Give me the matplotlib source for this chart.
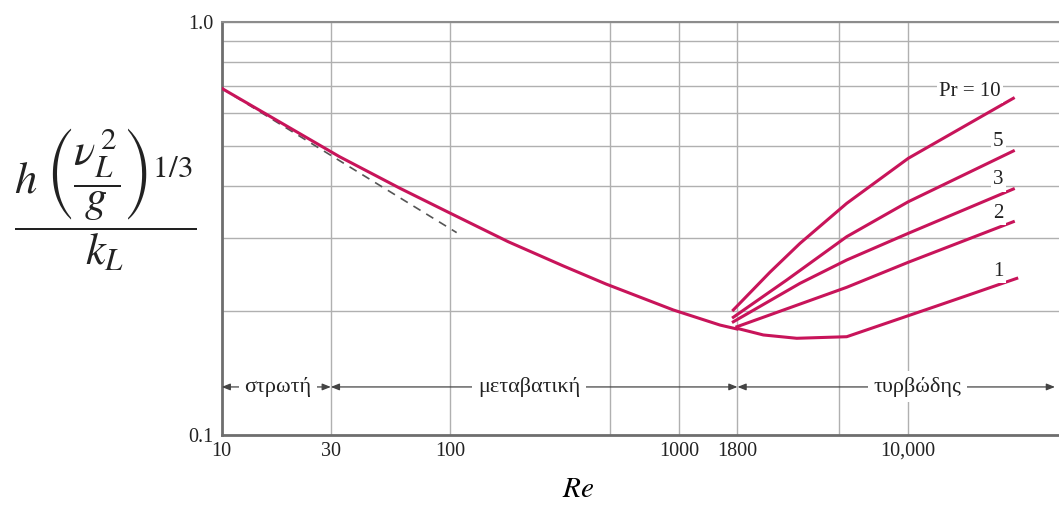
import numpy as np
import matplotlib
matplotlib.use("Agg")
import matplotlib.pyplot as plt

# Film condensation chart: dimensionless h vs Re, log-log

# Laminar / wavy-laminar branch
re_main = [10, 32.7, 60.2, 96.9, 179, 312, 479, 943, 1510, 1790]
nu_main = [0.690, 0.4716, 0.3953, 0.3469, 0.2935, 0.2564, 0.2319, 0.2007, 0.1845, 0.1805]

# Nusselt laminar (dashed)
re_nusselt = [10, 106.5]
nu_nusselt = [0.690, 0.3088]

# Turbulent branches for each Prandtl number
re_pr10 = [1726, 2498, 3378, 5406, 10050, 28930]
nu_pr10 = [0.2007, 0.2478, 0.2909, 0.3635, 0.4672, 0.6527]
re_pr5 = [1726, 2954, 5406, 10050, 28930]
nu_pr5 = [0.1927, 0.2371, 0.3019, 0.3668, 0.4866]
re_pr3 = [1726, 3378, 5406, 10050, 28930]
nu_pr3 = [0.1879, 0.2328, 0.2651, 0.3076, 0.3937]
re_pr2 = [1790, 5406, 10050, 28930]
nu_pr2 = [0.1828, 0.2277, 0.2618, 0.3281]
re_pr1 = [1790, 2335, 3268, 5406, 12510, 18090, 29940]
nu_pr1 = [0.1812, 0.1746, 0.1714, 0.1729, 0.2026, 0.2173, 0.2393]

pr_labels = ["Pr = 10", "5", "3", "2", "1"]
pr_label_re = [18700, 24880, 24880, 24880, 24880]
pr_label_nu = [0.677, 0.5125, 0.414, 0.3439, 0.2484]

# Flow regimes
regimes = ["στρωτή", "μεταβατική", "τυρβώδης"]
regime_bounds = [(10, 30), (30, 1800), (1800, 44000)]
regime_text_re = [17.6, 220.7, 11030]
regime_nu = 0.1307

x_grid = [10, 30, 100, 500, 1000, 1800, 5000, 10000]
x_labels = ["10", "30", "100", "", "1000", "1800", "", "10,000"]
y_grid = [0.1, 0.2, 0.3, 0.4, 0.5, 0.6, 0.7, 0.8, 0.9, 1.0]
y_labels = ["0.1", "", "", "", "", "", "", "", "", "1.0"]

curve_color = "#c8145a"
grid_color = "#b0b0b0"
serif = "Liberation Serif"

plt.rcParams["font.family"] = [serif, "DejaVu Serif"]
plt.rcParams["mathtext.fontset"] = "stix"

fig = plt.figure(figsize=(10.59, 5.08), dpi=100)
ax = fig.add_axes([221.7 / 1059, 1 - 435 / 508, 1 - 221.7 / 1059, (435 - 21.7) / 508])

ax.set_xscale("log")
ax.set_yscale("log")
ax.set_xlim(10, 45820)
ax.set_ylim(0.1, 1.0)

ax.set_xticks(x_grid)
ax.set_xticklabels(x_labels)
ax.set_xticks([], minor=True)
ax.set_yticks(y_grid)
ax.set_yticklabels(y_labels)
ax.set_yticks([], minor=True)
ax.tick_params(axis="both", length=0, labelsize=14.5, colors="#222222")
ax.tick_params(axis="x", pad=5)
ax.tick_params(axis="y", pad=6)
ax.grid(True, color=grid_color, linewidth=1.0, zorder=0)

for side in ["left", "bottom"]:
    ax.spines[side].set_color("#6e6e6e")
    ax.spines[side].set_linewidth(2.0)
ax.spines["top"].set_color("#8c8c8c")
ax.spines["top"].set_linewidth(1.5)
ax.spines["right"].set_visible(False)

# Curves
ax.plot(re_nusselt, nu_nusselt, color="#555555", lw=1.2, ls=(0, (5, 4)), zorder=2)
ax.plot(re_main, nu_main, color=curve_color, lw=2.2, zorder=3)
for re_vals, nu_vals in [(re_pr10, nu_pr10), (re_pr5, nu_pr5), (re_pr3, nu_pr3),
                         (re_pr2, nu_pr2), (re_pr1, nu_pr1)]:
    ax.plot(re_vals, nu_vals, color=curve_color, lw=2.2, zorder=3)

for lab, xr, yr in zip(pr_labels, pr_label_re, pr_label_nu):
    ax.text(xr, yr, lab, ha="center", va="center", fontsize=15, color="#222222",
            bbox=dict(facecolor="white", edgecolor="none", pad=1.5), zorder=4)

# Regime arrows
for (x0, x1), name, xt in zip(regime_bounds, regimes, regime_text_re):
    ax.annotate("", xy=(x0, regime_nu), xytext=(x1, regime_nu),
                arrowprops=dict(arrowstyle="<|-|>,head_length=0.5,head_width=0.2",
                                color="#444444", lw=0.9, shrinkA=0, shrinkB=0),
                zorder=3, annotation_clip=False)
    ax.text(xt, regime_nu, name, ha="center", va="center", fontsize=16, color="#222222",
            bbox=dict(facecolor="white", edgecolor="none", pad=4), zorder=4)

ax.set_xlabel(r"$Re$", fontsize=21)
ax.xaxis.set_label_coords(0.4255, -0.102)

ylab = r"$\dfrac{h\;\left(\dfrac{\nu_L^{\,2}}{g}\right)^{1/3}}{k_L}$"
fig.text(105 / 1059, 1 - 200 / 508, ylab, ha="center", va="center", fontsize=32,
         color="#222222")

fig.savefig("out.png", dpi=100)
